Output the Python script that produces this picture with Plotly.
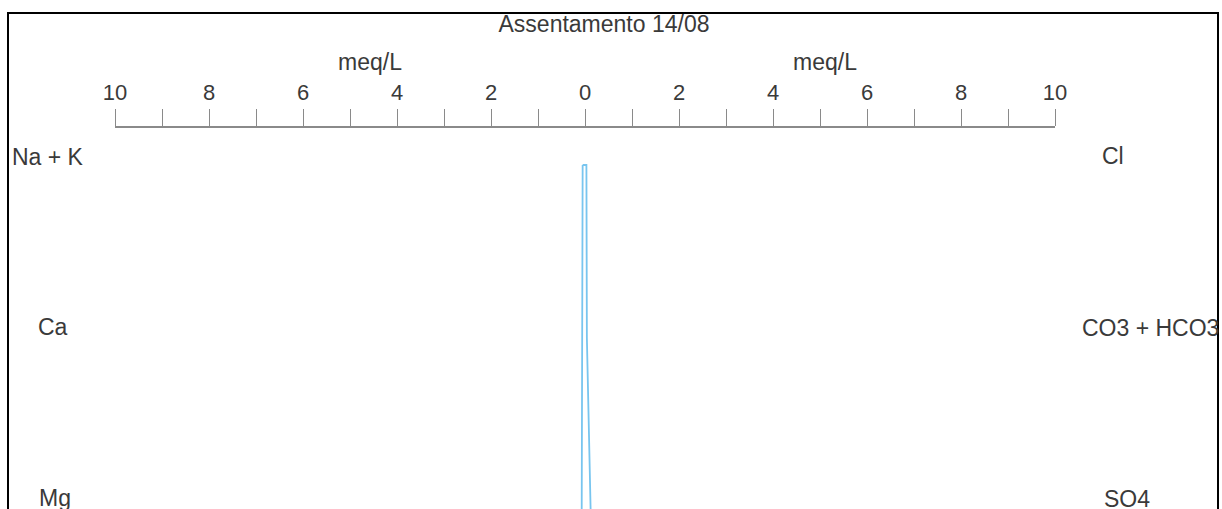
import plotly.graph_objects as go

# Stiff diagram values (meq/L)
cation_names = ["Na + K", "Ca", "Mg"]
anion_names = ["Cl", "CO3 + HCO3", "SO4"]
cations = [0.05, 0.065, 0.07]
anions = [0.03, 0.04, 0.12]
rows = [0, 1, 2]

tick_vals = list(range(-10, 11))
tick_text = [str(abs(v)) if v % 2 == 0 else "" for v in tick_vals]

W, H = 1222, 509
TXT = "#3a3a3a"
FONT = "Liberation Sans, Arial, sans-serif"
FS = 23

# closed outline: cations on the left (negative), anions on the right
xs = [-c for c in cations] + anions[::-1] + [-cations[0]]
ys = rows + rows[::-1] + [rows[0]]

fig = go.Figure()
fig.add_trace(go.Scatter(
    x=xs, y=ys, mode="lines",
    line=dict(color="#78c5ef", width=1.8),
    fill="toself", fillcolor="rgba(255,255,255,0)",
    hoverinfo="skip", showlegend=False,
))

# row pixel layout: row 0 at 165 px, 173 px per row
row0_px, row_step = 165, 173
y_top = -row0_px / row_step
y_bot = (H - row0_px) / row_step

fig.update_layout(
    width=W, height=H,
    margin=dict(l=0, r=0, t=0, b=0, autoexpand=False),
    paper_bgcolor="white", plot_bgcolor="white",
    font=dict(family=FONT, color=TXT, size=FS),
    title=dict(text="Assentamento 14/08", x=604 / W, y=1 - 24 / H,
               xref="paper", yref="container", xanchor="center", yanchor="middle",
               font=dict(size=FS, color=TXT, family=FONT)),
    xaxis=dict(
        domain=[115 / W, 1055 / W], range=[-10, 10],
        anchor="free", position=1 - 127 / H, side="top",
        tickvals=tick_vals, ticktext=tick_text,
        ticks="outside", ticklen=17, tickwidth=1.2, tickcolor="#8a8a8a",
        showline=True, linecolor="#8a8a8a", linewidth=1.5,
        showgrid=False, zeroline=False, automargin=False,
        tickfont=dict(size=22, color=TXT, family=FONT),
    ),
    yaxis=dict(
        domain=[0, 1], range=[y_bot, y_top],
        visible=False, showgrid=False, zeroline=False, automargin=False,
    ),
    shapes=[dict(type="rect", xref="paper", yref="paper",
                 x0=8 / W, x1=1218 / W, y0=-0.2, y1=1 - 13 / H,
                 line=dict(color="black", width=2))],
)

# unit captions over each half of the scale
for cx in (370, 825):
    fig.add_annotation(text="meq/L", x=cx / W, y=1 - 62 / H, xref="paper", yref="paper",
                       showarrow=False, xanchor="center", yanchor="middle",
                       font=dict(size=FS, color=TXT, family=FONT))

# ion labels (pixel placement of each caption)
left_pos = [(10, 157, "left"), (53, 327, "center"), (55, 498, "center")]
right_pos = [(1113, 156, "center"), (1080, 328, "left"), (1127, 499, "center")]
for name, (px, py, anc) in zip(cation_names + anion_names, left_pos + right_pos):
    fig.add_annotation(text=name, x=px / W, y=1 - py / H, xref="paper", yref="paper",
                       showarrow=False, xanchor=anc, yanchor="middle",
                       font=dict(size=FS, color=TXT, family=FONT))

fig.write_html("out.html")
